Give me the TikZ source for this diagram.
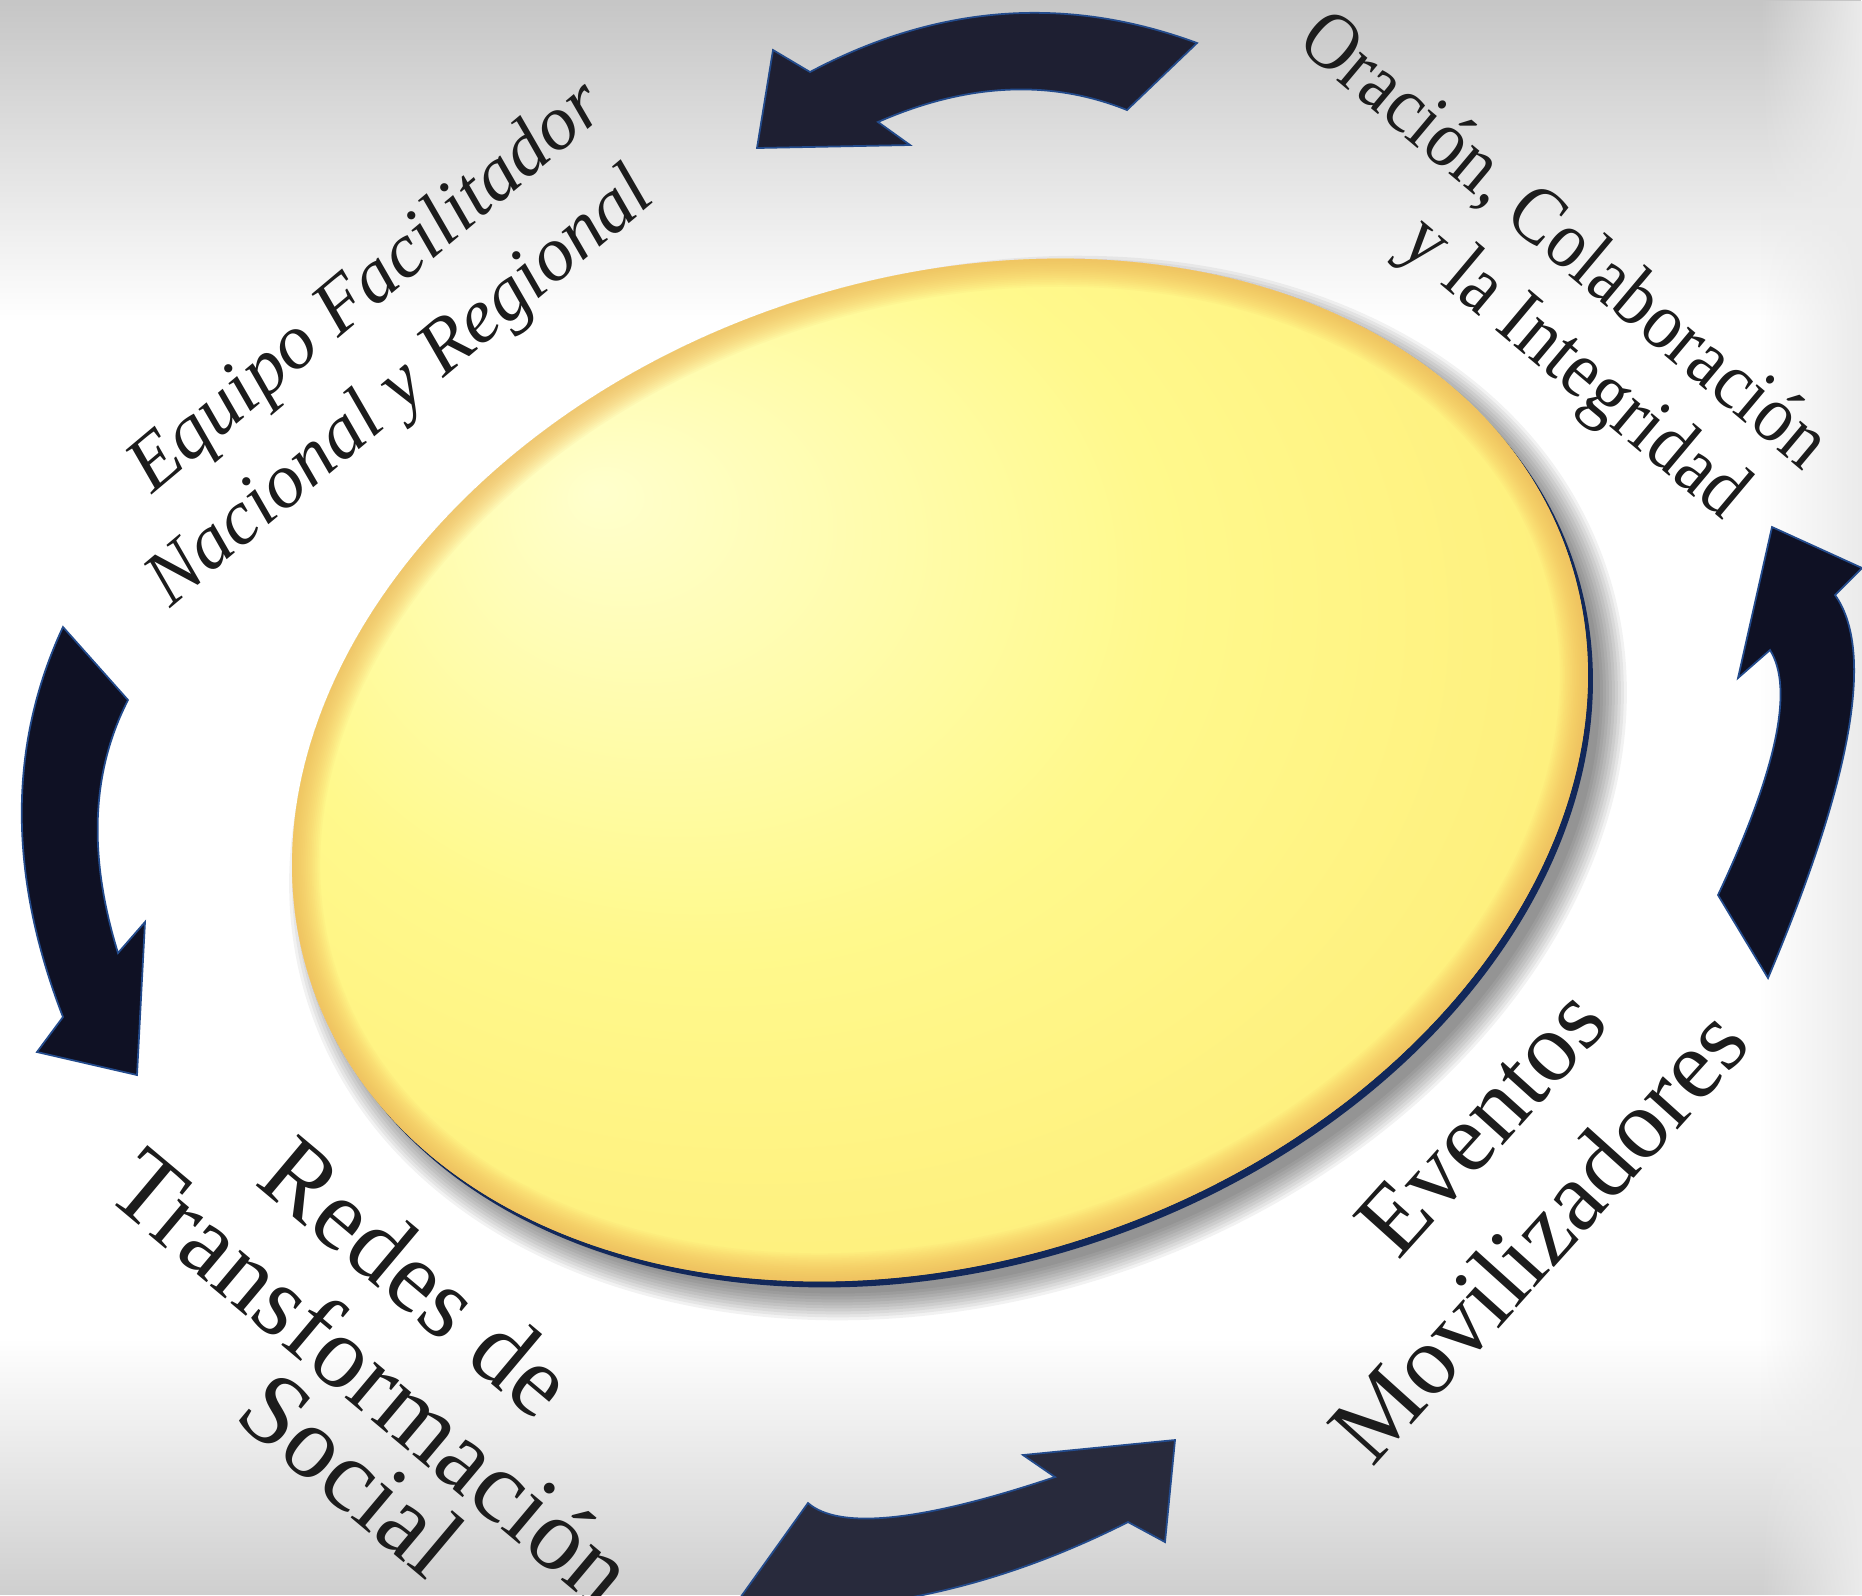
\documentclass[tikz,border=0pt]{standalone}
\usepackage{fontspec}
\setmainfont{Liberation Serif}
\newfontfamily\narrowserif[FakeStretch=0.9]{Liberation Serif}
\usepackage{tikz}
\usetikzlibrary{shapes.geometric,fadings}

\definecolor{arrownavy}{RGB}{15,17,36}
\definecolor{arrowslate}{RGB}{30,31,50}
\definecolor{arrowdusk}{RGB}{40,42,60}
\definecolor{arrowedge}{RGB}{35,75,140}
\definecolor{diskhi}{RGB}{255,255,205}
\definecolor{diskmid}{RGB}{255,249,140}
\definecolor{disklo}{RGB}{254,236,120}
\definecolor{diskwarm}{RGB}{252,222,112}
\definecolor{diskedge}{RGB}{240,182,88}
\definecolor{diskrim}{RGB}{18,40,90}
\definecolor{inkgray}{RGB}{28,28,28}
\definecolor{bggray}{RGB}{198,198,198}

\pgfdeclareradialshading{diskshade}{\pgfpoint{-12bp}{12bp}}{%
  color(0bp)=(diskhi); color(16bp)=(diskmid); color(32bp)=(disklo);
  color(46bp)=(diskwarm); color(50bp)=(diskwarm)}

\tikzfading[name=fadedown, top color=transparent!0, bottom color=transparent!100]
\tikzfading[name=fadeup, top color=transparent!100, bottom color=transparent!0]
\tikzfading[name=fadeleft, left color=transparent!100, right color=transparent!0]

\begin{document}
\begin{tikzpicture}[
  cyclearrow/.style={fill=arrownavy, draw=arrowedge, line width=0.5pt, line join=miter},
  label/.style={text=inkgray, align=center, inner sep=0pt},
  disk/.style={ellipse, minimum width=13.28cm, minimum height=9.8cm, inner sep=0pt}
]
\useasboundingbox (0,0) rectangle (18.62,-15.95);
\clip (0,0) rectangle (18.62,-15.95);

% background
\fill[white] (0,0) rectangle (18.62,-15.95);
\fill[bggray, path fading=fadedown] (0,0) rectangle (18.62,-3.2);
\fill[bggray!85, path fading=fadeup] (0,-13.4) rectangle (18.62,-15.95);
\fill[bggray!35, path fading=fadeleft] (17.6,0) rectangle (18.62,-15.95);

% shadow and rim of the disk
\foreach \k in {0,...,9}
  \fill[black, opacity=0.05, rotate around={19:(9.58,-7.88)}]
    (9.58,-7.88) ellipse [x radius=6.58cm+\k*0.03cm, y radius=4.84cm+\k*0.03cm];
\fill[diskrim, rotate around={19:(9.45,-7.76)}]
  (9.45,-7.76) ellipse [x radius=6.64cm, y radius=4.90cm];

% centre disk with its bevel
\node[disk, rotate=19, shading=diskshade] (core) at (9.40,-7.70) {};
\begin{scope}
  \clip[rotate around={19:(9.40,-7.70)}] (9.40,-7.70) ellipse [x radius=6.64cm, y radius=4.90cm];
  \foreach \w in {1,2,...,16}
    \draw[diskedge, opacity=0.07, line width=\w pt, rotate around={19:(9.40,-7.70)}]
      (9.40,-7.70) ellipse [x radius=6.64cm, y radius=4.90cm];
\end{scope}

% cycle arrows
\path[cyclearrow, fill=arrowslate] (11.97,-0.43) .. controls (10.67,0.05) and (9.38,-0.04) .. (8.10,-0.72)
  -- (7.73,-0.50) -- (7.57,-1.48) -- (9.10,-1.45) -- (8.78,-1.22)
  .. controls (9.67,-0.83) and (10.50,-0.79) .. (11.27,-1.10) -- cycle;
\path[cyclearrow] (0.63,-6.27) .. controls (0.08,-7.45) and (0.08,-8.75) .. (0.63,-10.17)
  -- (0.37,-10.52) -- (1.37,-10.75) -- (1.45,-9.22) -- (1.18,-9.53)
  .. controls (0.88,-8.56) and (0.91,-7.72) .. (1.28,-7.00) -- cycle;
\path[cyclearrow, fill=arrowdusk] (8.08,-15.03) .. controls (8.39,-15.30) and (9.21,-15.22) .. (10.55,-14.77)
  -- (10.23,-14.55) -- (11.75,-14.40) -- (11.65,-15.42) -- (11.28,-15.22)
  .. controls (10.37,-15.68) and (9.48,-15.95) .. (8.60,-16.05)
  -- (7.40,-15.98) -- cycle;
\path[cyclearrow] (17.68,-9.78) .. controls (18.52,-7.79) and (18.75,-6.51) .. (18.35,-5.95)
  -- (18.62,-5.68) -- (17.72,-5.27) -- (17.38,-6.78) -- (17.70,-6.50)
  .. controls (17.94,-6.88) and (17.77,-7.70) .. (17.18,-8.95) -- cycle;

% labels
\node[label, font=\fontsize{22}{28}\selectfont\itshape, rotate=40] (equipo) at (4.00,-3.27)
  {Equipo Facilitador\\Nacional y Regional\hspace*{1em}};
\node[label, font=\fontsize{23}{25.5}\selectfont\narrowserif, rotate=-40] (oracion) at (15.33,-2.78)
  {Oración, Colaboración\\\hspace*{51pt}y la Integridad};
\node[label, font=\fontsize{29}{30}\selectfont, rotate=-40] (redes) at (3.79,-13.70)
  {Redes de\hspace*{0.6em}\\Transformación\\[-5pt]\hspace*{0.9em}Social};
\node[label, font=\fontsize{28}{34}\selectfont, rotate=48] (eventos) at (14.95,-11.96)
  {\hspace*{26pt}Eventos\\Movilizadores};
\end{tikzpicture}
\end{document}
